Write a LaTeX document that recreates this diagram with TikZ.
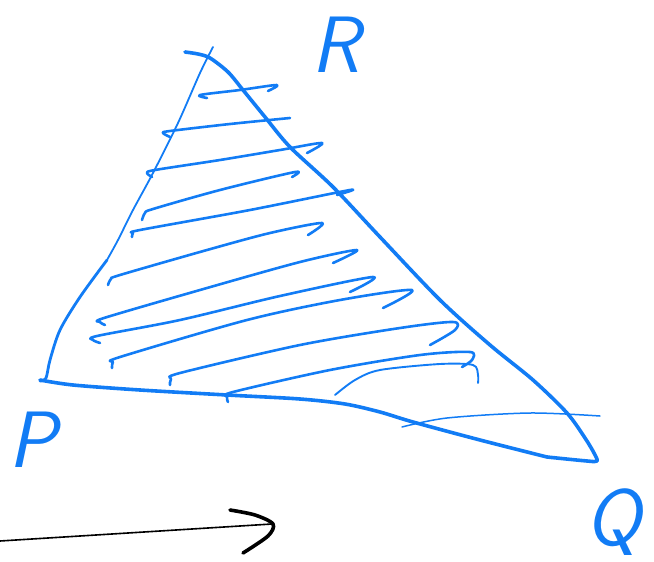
\documentclass[tikz,border=0pt]{standalone}
\usetikzlibrary{calc}
\definecolor{sketchblue}{RGB}{18,124,245}
\tikzset{
  edge/.style={draw=sketchblue, line width=3.6pt, line cap=round, line join=round},
  thinedge/.style={draw=sketchblue, line width=1.8pt, line cap=round, line join=round},
  hatch/.style={draw=sketchblue, line width=2.6pt, line cap=round, line join=round},
  lbl/.style={text=sketchblue, font=\sffamily\itshape\fontsize{80}{80}\selectfont, inner sep=0pt},
  arrowline/.style={draw=black, line width=1.6pt, line cap=round},
  arrowhd/.style={draw=black, line width=3.6pt, line cap=round, line join=round}
}
\begin{document}
\begin{tikzpicture}[x=1pt,y=-1pt]
\useasboundingbox (0,0) rectangle (654,562);
% left edge
\draw[thinedge] plot[smooth] coordinates {(213,47) (200,73) (178,123) (153,173) (133,210) (118,240) (107,260)};
\draw[edge, line width=2.8pt] plot[smooth] coordinates {(107,260) (80,297) (60,330) (50,360) (46,378) (40,381)};
% right and bottom edge
\draw[edge] plot[smooth, tension=0.5] coordinates {(185,52) (198,54) (210,58) (228,72) (243,90) (265,117) (290,147) (333,187) (380,237) (440,300) (490,345) (533,380) (567,413) (585,438) (594,453) (597,461) (587,461) (547,457)};
\draw[edge] plot[smooth] coordinates {(547,457) (480,440) (413,422) (380,412) (345,404) (300,399) (227,395) (140,390) (73,385) (40,380)};
% thin stroke at bottom right
\draw[hatch, line width=1.5pt] plot[smooth] coordinates {(402,427) (447,418) (530,413) (600,416)};
% hatching
\draw[hatch] plot[smooth] coordinates {(207,98) (200,95) (240,90) (277,85) (268,91)};
\draw[hatch] plot[smooth] coordinates {(170,137) (163,133) (170,131) (230,124) (290,118)};
\draw[hatch] plot[smooth] coordinates {(152,177) (147,173) (155,170) (220,160) (280,150) (322,143) (307,153)};
\draw[hatch] plot[smooth] coordinates {(142,220) (145,213) (153,209) (220,190) (295,172) (292,177)};
\draw[hatch] plot[smooth] coordinates {(132,237) (133,233) (140,230) (250,210) (350,190) (337,195)};
\draw[hatch] plot[smooth] coordinates {(108,285) (111,279) (120,275) (207,250) (270,233) (322,223) (308,235)};
\draw[hatch] plot[smooth] coordinates {(105,325) (100,322) (104,318) (200,290) (300,262) (357,250) (333,263)};
\draw[hatch] plot[smooth] coordinates {(100,343) (93,340) (97,336) (180,320) (280,296) (373,277) (350,292)};
\draw[hatch] plot[smooth] coordinates {(112,368) (113,362) (120,357) (247,320) (340,300) (412,290) (383,308)};
\draw[hatch] plot[smooth] coordinates {(170,385) (171,379) (180,373) (300,345) (400,328) (453,322) (455,330) (430,345)};
\draw[hatch] plot[smooth] coordinates {(228,402) (227,397) (233,392) (330,370) (420,355) (470,352) (472,360) (462,367)};
\draw[hatch, line width=1.9pt] plot[smooth] coordinates {(335,395) (355,380) (380,370) (440,364) (473,365) (478,375) (478,383)};
% labels
\node[lbl] (R) at (336,45) {R};
\node[lbl] (P) at (33,440) {P};
\node[lbl] (Q) at (613,522) {Q};
% arrow
\coordinate (a0) at (0,541);
\coordinate (a1) at (272,524);
\draw[arrowline] (a0) -- (a1);
\draw[arrowhd] plot[smooth] coordinates {(230,510) (255,515) (273,524) (268,536) (243,553)};
\end{tikzpicture}
\end{document}
